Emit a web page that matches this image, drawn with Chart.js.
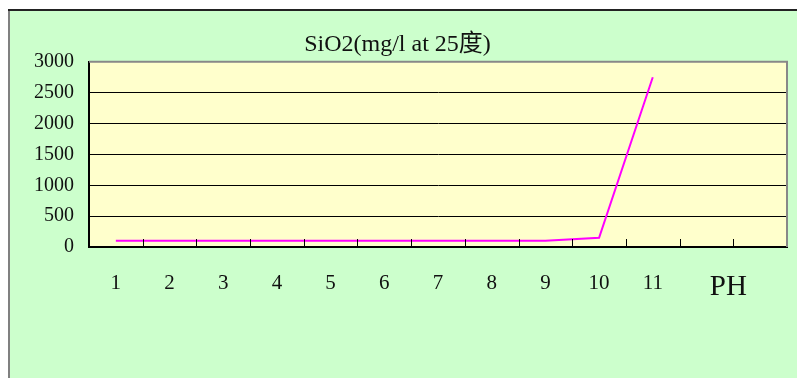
<!DOCTYPE html>
<html><head><meta charset="utf-8">
<script src="https://cdn.jsdelivr.net/npm/chart.js@4/dist/chart.umd.min.js"></script>
<style>html,body{margin:0;padding:0;background:#fff}#c{display:block}</style>
</head><body>
<div style="width:797px;height:378px"><canvas id="c" width="797" height="378"></canvas></div>
<script>
const categories = ['1','2','3','4','5','6','7','8','9','10','11','',''];
const sio2Values = [100,100,100,100,100,100,100,100,100,150,2750,null,null];
const yTicks = [0,500,1000,1500,2000,2500,3000];
const axisLabel = 'PH';
const chartTitle = 'SiO2(mg/l at 25度)';

const SERIF = '"Liberation Serif","DejaVu Serif","Noto Sans CJK TC",serif';

const decor = {
  id: 'decor',
  beforeDraw(chart) {
    const ctx = chart.ctx, a = chart.chartArea, W = chart.width, H = chart.height;
    ctx.save();
    ctx.fillStyle = '#ffffff'; ctx.fillRect(0,0,W,H);
    ctx.fillStyle = '#CCFFCC'; ctx.fillRect(8,9,W-8,H-9);
    ctx.strokeStyle = '#808080'; ctx.lineWidth = 2;
    ctx.beginPath(); ctx.moveTo(9,10); ctx.lineTo(9,H); ctx.stroke();
    ctx.strokeStyle = '#222'; ctx.lineWidth = 2;
    ctx.beginPath(); ctx.moveTo(8,10); ctx.lineTo(W,10); ctx.stroke();
    ctx.fillStyle = '#FFFFCC'; ctx.fillRect(a.left,a.top,a.right-a.left,a.bottom-a.top);
    ctx.restore();
  },
  afterDraw(chart) {
    const ctx = chart.ctx, a = chart.chartArea, xs = chart.scales.x;
    ctx.save();
    ctx.strokeStyle = '#888'; ctx.lineWidth = 2;
    ctx.beginPath(); ctx.moveTo(a.left, a.top); ctx.lineTo(a.right, a.top); ctx.lineTo(a.right, a.bottom); ctx.stroke();
    ctx.strokeStyle = '#000'; ctx.lineWidth = 1;
    const n = categories.length;
    for (let i = 1; i < n; i++) {
      const px = Math.round((xs.getPixelForValue(i-1) + xs.getPixelForValue(i)) / 2) + 0.5;
      ctx.beginPath(); ctx.moveTo(px, a.bottom); ctx.lineTo(px, a.bottom - 8); ctx.stroke();
    }
    const phX = (xs.getPixelForValue(n-2) + xs.getPixelForValue(n-1)) / 2 - 5;
    ctx.fillStyle = '#111';
    ctx.font = '29px ' + SERIF;
    ctx.textAlign = 'center'; ctx.textBaseline = 'middle';
    ctx.fillText(axisLabel, phX, a.bottom + 40);
    ctx.restore();
  }
};

new Chart(document.getElementById('c'), {
  type: 'line',
  data: {
    labels: categories,
    datasets: [{
      data: sio2Values,
      borderColor: '#FF00FF',
      borderWidth: 2,
      pointRadius: 0,
      tension: 0,
      fill: false
    }]
  },
  options: {
    responsive: false,
    animation: false,
    devicePixelRatio: 1,
    layout: { padding: { left: 8, right: 10, top: 0, bottom: 0 } },
    plugins: {
      legend: { display: false },
      tooltip: { enabled: false },
      title: {
        display: true,
        text: chartTitle,
        color: '#111',
        font: { family: SERIF, size: 24, weight: 'normal' },
        padding: { top: 30, bottom: 3 }
      }
    },
    scales: {
      x: {
        offset: true,
        grid: { display: false, drawTicks: false },
        border: { display: true, color: '#000', width: 2 },
        ticks: { color: '#111', font: { family: SERIF, size: 21 }, padding: 24, maxRotation: 0, autoSkip: false },
        afterFit(s) { s.height = 131; }
      },
      y: {
        min: 0, max: 3000,
        afterBuildTicks(s) { s.ticks = yTicks.map(v => ({ value: v })); },
        grid: {
          color: ctx => ctx.tick && ctx.tick.value === 3000 ? 'rgba(0,0,0,0)' : '#000',
          lineWidth: 1,
          drawTicks: false
        },
        border: { display: true, color: '#000', width: 2 },
        ticks: { color: '#111', font: { family: SERIF, size: 20 }, padding: 15, callback: v => String(v) },
        afterFit(s) { s.width = 81; }
      }
    }
  },
  plugins: [decor]
});
</script>
</body></html>
